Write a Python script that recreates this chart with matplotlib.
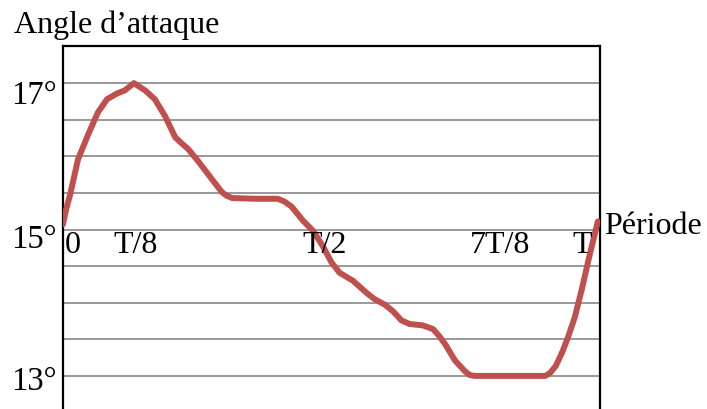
import matplotlib.pyplot as plt
from matplotlib.transforms import blended_transform_factory

# =========================================================
# DONNEES
# =========================================================
periode = [0.000, 0.006, 0.013, 0.028, 0.047, 0.065, 0.082, 0.101, 0.115,
           0.132, 0.153, 0.171, 0.190, 0.209, 0.222, 0.233, 0.251, 0.277,
           0.296, 0.305, 0.315, 0.358, 0.400, 0.413, 0.426, 0.447, 0.466,
           0.484, 0.500, 0.515, 0.540, 0.566, 0.580, 0.600, 0.615, 0.630,
           0.645, 0.670, 0.689, 0.700, 0.712, 0.730, 0.749, 0.758, 0.767,
           0.898, 0.907, 0.918, 0.930, 0.940, 0.953, 0.966, 0.981, 0.996]
angle = [15.07, 15.28, 15.47, 15.96, 16.30, 16.60, 16.78, 16.86, 16.90,
         17.00, 16.90, 16.78, 16.55, 16.26, 16.17, 16.10, 15.94, 15.69,
         15.51, 15.46, 15.43, 15.42, 15.42, 15.38, 15.31, 15.12, 14.98,
         14.77, 14.55, 14.41, 14.30, 14.13, 14.05, 13.97, 13.88, 13.76,
         13.71, 13.69, 13.64, 13.55, 13.43, 13.21, 13.06, 13.01, 13.00,
         13.00, 13.04, 13.14, 13.33, 13.52, 13.80, 14.18, 14.66, 15.11]

grille = [13.0, 13.5, 14.0, 14.5, 15.0, 15.5, 16.0, 16.5, 17.0]

labels_y = ["17°", "15°", "13°"]
pos_labels_y = [16.84, 14.88, 12.93]

labels_x = ["0", "T/8", "T/2", "7T/8", "T"]
pos_labels_x = [0.019, 0.136, 0.488, 0.814, 0.966]

plt.rcParams['font.family'] = ['Liberation Serif', 'DejaVu Serif']

# =========================================================
# FIGURE
# =========================================================
fig = plt.figure(figsize=(7.07, 4.10), dpi=100)
ax = fig.add_axes([63 / 707, 0.0, 537 / 707, 1 - 47 / 410])

for g in grille:
    ax.axhline(g, color='#999999', linewidth=1.4, zorder=1)

ax.plot(periode, angle, color='#c0504d', linewidth=4.3,
        solid_joinstyle='round', solid_capstyle='round', zorder=3)

ax.set_xlim(0, 1)
ax.set_ylim(12.548, 17.507)
ax.set_xticks([])
ax.set_yticks([])

for side in ['left', 'top', 'right']:
    ax.spines[side].set_linewidth(1.6)
    ax.spines[side].set_color('black')
ax.spines['bottom'].set_visible(False)

# labels de l'axe vertical
trans_y = blended_transform_factory(fig.transFigure, ax.transData)
for lab, pos in zip(labels_y, pos_labels_y):
    ax.text(57 / 707, pos, lab, transform=trans_y, ha='right', va='center',
            fontsize=23.5, clip_on=False)

# labels de la periode
for lab, pos in zip(labels_x, pos_labels_x):
    ax.text(pos, 14.79, lab, ha='center', va='center', fontsize=23, zorder=4)

ax.text(1.008, 15.05, "Période", transform=blended_transform_factory(ax.transAxes, ax.transData),
        ha='left', va='center', fontsize=23, clip_on=False)

fig.text(14 / 707, 1 - 25 / 410, "Angle d’attaque", ha='left', va='center', fontsize=23)

fig.savefig("out.png", dpi=100)
plt.close()
